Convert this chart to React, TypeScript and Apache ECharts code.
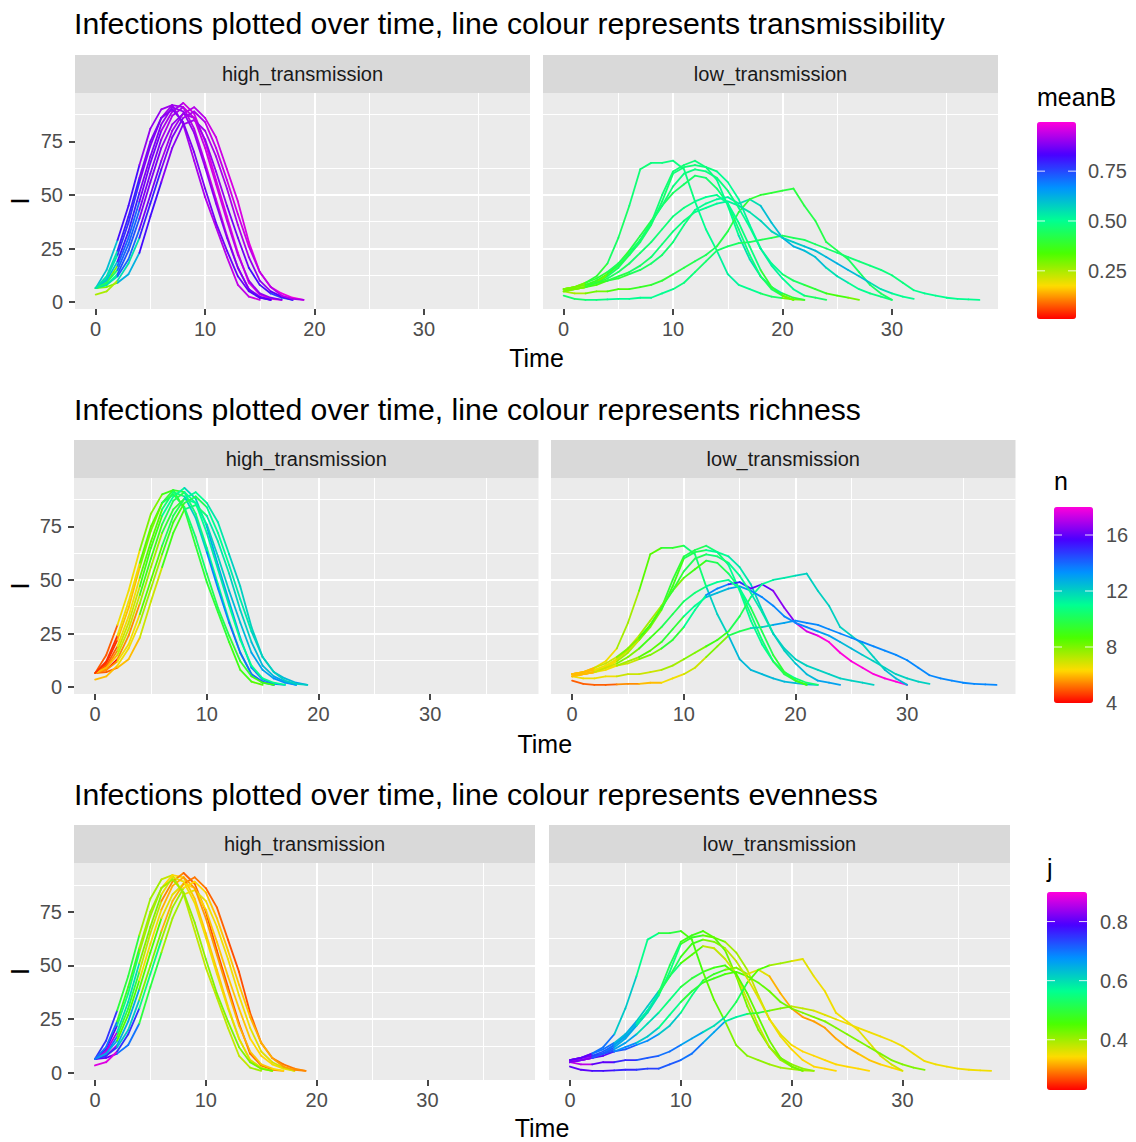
import React, { useEffect, useRef } from "react";
import * as echarts from "echarts";

// ---------------- data ----------------
const FACETS = ["high_transmission", "low_transmission"];
const X_TICKS = [0, 10, 20, 30];
const Y_TICKS = [0, 25, 50, 75];
const X_RANGE = [-1.89, 39.7];
const Y_RANGE = [-3.26, 97.64];
const TIME_STEP = 1; // infections recorded every time unit (t = 0, 1, 2, ...)
const COLOUR_STEP = 2; // colour variables recorded every 2 time units
const RAINBOW = ["#FF0000", "#FFDB00", "#49FF00", "#00FF92", "#0092FF", "#4900FF", "#FF00DB"];

// Infections I, high transmission runs
const HIGH_I: number[][] = [
  [6.5, 15, 29, 45, 64, 81, 90, 92, 83, 66, 49, 35, 21, 8, 2.5, 1],
  [6.5, 11, 22, 37, 56, 73, 86, 92, 91, 81, 65, 48, 31, 16, 6, 2, 1],
  [6.5, 9, 17, 30, 47, 65, 80, 89, 93, 88, 75, 57, 40, 23, 9, 3.5, 1.5, 1],
  [6.5, 8, 13, 24, 39, 56, 72, 83, 88, 86, 76, 61, 45, 30, 16, 8, 4, 2, 1],
  [6.5, 7, 9, 13, 23, 40, 56, 72, 83, 85, 80, 68, 53, 36, 21, 10, 5, 2.5, 1],
  [6.5, 8, 12, 20, 34, 50, 66, 80, 88, 91, 86, 77, 62, 47, 28, 14, 7, 4, 2, 1],
  [6.5, 10, 19, 33, 51, 68, 83, 91, 89, 79, 63, 46, 30, 16, 6, 2.5, 1],
  [6.5, 9, 15, 27, 43, 60, 76, 87, 91, 86, 72, 55, 38, 22, 10, 4, 2, 1],
  [6.5, 12, 24, 40, 58, 75, 86, 90, 84, 70, 53, 37, 24, 12, 5, 2, 1],
  [3.5, 5, 10, 18, 30, 46, 62, 77, 86, 89, 84, 72, 57, 41, 26, 14, 7, 3, 1.5, 1],
];

// Infections I, low transmission runs
const LOW_I: number[][] = [
  [6, 7, 9, 12, 18, 30, 45, 62, 65, 65, 66, 62, 47, 34, 24, 13, 8, 6, 4, 2.5, 1.8, 1.2, 1],
  [5, 6, 7, 9, 12, 16, 22, 29, 37, 50, 61, 64, 66, 63, 57, 45, 31, 20, 12, 7, 4, 2, 1],
  [6, 7, 8, 10, 13, 17, 22, 28, 36, 47, 60, 63, 64, 63, 61, 56, 48, 36, 25, 18, 13, 10, 8, 6, 4, 3, 2, 1],
  [5, 6, 7, 9, 13, 18, 24, 31, 38, 45, 51, 55, 59, 58, 53, 46, 34, 22, 12, 6, 3, 1],
  [6, 6, 7, 8, 10, 11, 13, 15, 18, 22, 28, 36, 43, 46, 48, 49, 46, 48, 45, 37, 30, 26, 24, 21, 16, 12, 9, 6, 4, 2.5, 1],
  [5, 4, 4, 5, 5, 6, 6, 7, 8, 10, 13, 16, 19, 22, 26, 33, 42, 48, 50, 51, 52, 53, 45, 38, 28, 24, 20, 14, 8, 4, 1],
  [3, 1.5, 1, 1, 1.2, 1.5, 1.5, 2, 2, 4, 6, 9, 14, 19, 24, 26, 27.5, 28, 29, 30, 31, 30, 29, 27, 25, 23, 21, 19, 17, 15, 12.5, 9, 5.5, 4, 3, 2, 1.5, 1.2, 1],
  [6, 7, 8, 9, 10, 12, 14, 17, 21, 27, 33, 38, 42, 44, 46, 47, 45, 42, 38, 33, 30, 28, 26, 24, 21, 18, 15, 12, 9, 6, 4, 2.5, 1.5],
  [5, 6, 7, 9, 11, 14, 18, 23, 28, 34, 40, 44, 47, 49, 50, 46, 37, 26, 15, 7, 3, 1],
  [6, 7, 9, 11, 14, 18, 23, 29, 37, 45, 54, 60, 62, 61, 58, 52, 44, 35, 25, 17, 11, 6, 3, 2, 1],
];

// meanB (transmissibility), every 2 time units
const HIGH_MEANB: number[][] = [
  [0.6, 0.82, 0.9, 0.91, 0.92, 0.93, 0.94, 0.95],
  [0.55, 0.78, 0.88, 0.91, 0.93, 0.95, 0.96, 0.94, 0.92],
  [0.3, 0.72, 0.87, 0.92, 0.95, 0.96, 0.97, 0.97, 0.98],
  [0.5, 0.74, 0.88, 0.9, 0.91, 0.9, 0.87, 0.82, 0.76, 0.72],
  [0.3, 0.62, 0.82, 0.89, 0.91, 0.92, 0.92, 0.9, 0.84, 0.8],
  [0.55, 0.72, 0.87, 0.91, 0.93, 0.95, 0.96, 0.97, 0.98, 0.99],
  [0.6, 0.8, 0.88, 0.9, 0.9, 0.89, 0.88, 0.87, 0.86],
  [0.45, 0.72, 0.88, 0.92, 0.94, 0.95, 0.93, 0.9, 0.88],
  [0.55, 0.8, 0.88, 0.89, 0.88, 0.87, 0.86, 0.84, 0.8],
  [0.25, 0.55, 0.8, 0.88, 0.92, 0.94, 0.95, 0.94, 0.93, 0.92],
];
const LOW_MEANB: number[][] = [
  [0.3, 0.4, 0.45, 0.47, 0.48, 0.48, 0.5, 0.52, 0.5, 0.45, 0.3, 0.25],
  [0.35, 0.42, 0.45, 0.46, 0.47, 0.47, 0.48, 0.5, 0.55, 0.52, 0.4, 0.3],
  [0.28, 0.38, 0.42, 0.45, 0.46, 0.47, 0.48, 0.5, 0.52, 0.5, 0.45, 0.4, 0.35, 0.3],
  [0.25, 0.3, 0.38, 0.42, 0.44, 0.45, 0.46, 0.47, 0.48, 0.45, 0.35],
  [0.3, 0.35, 0.4, 0.44, 0.46, 0.48, 0.5, 0.52, 0.55, 0.6, 0.62, 0.6, 0.55, 0.5, 0.48, 0.45],
  [0.25, 0.3, 0.35, 0.38, 0.4, 0.42, 0.44, 0.42, 0.4, 0.4, 0.41, 0.42, 0.43, 0.45, 0.45, 0.45],
  [0.45, 0.48, 0.5, 0.5, 0.5, 0.48, 0.46, 0.45, 0.44, 0.43, 0.44, 0.45, 0.46, 0.47, 0.48, 0.48, 0.5, 0.5, 0.5, 0.5],
  [0.3, 0.38, 0.42, 0.45, 0.47, 0.48, 0.5, 0.52, 0.55, 0.57, 0.58, 0.6, 0.62, 0.6, 0.55, 0.5, 0.48],
  [0.3, 0.4, 0.44, 0.46, 0.47, 0.48, 0.5, 0.5, 0.48, 0.4, 0.3],
  [0.3, 0.4, 0.44, 0.46, 0.47, 0.48, 0.48, 0.48, 0.5, 0.52, 0.5, 0.45, 0.4],
];

// n (richness), every 2 time units
const HIGH_N: number[][] = [
  [5, 6.5, 8, 9, 9.5, 9.5, 9, 8.5],
  [4.5, 6, 8, 9.5, 10.5, 11, 11, 11.5, 12],
  [5.5, 7, 9, 11, 12, 13, 13, 13.5, 13.5],
  [4.2, 5.5, 7.5, 9.5, 11, 12, 12.5, 13, 13.5, 14],
  [5, 6, 7, 9, 10.5, 11.5, 12, 12.5, 13, 13],
  [5.5, 6.5, 8.5, 10, 11, 11.5, 12, 12, 12.5, 13],
  [5, 6.5, 8.5, 10.5, 12, 13.5, 14, 14, 13.5],
  [6, 7, 9, 10, 11, 11.5, 11, 11, 11],
  [4.5, 6.5, 8.5, 10, 10.5, 10, 9.5, 9, 9],
  [6, 6.5, 7.5, 9, 10, 11, 11.5, 12, 12, 12],
];
const LOW_N: number[][] = [
  [6, 6.5, 7.5, 8.5, 9.5, 10.5, 12, 12.5, 12.5, 12.5, 12.5, 12.5],
  [5.5, 6.5, 7.5, 8.5, 9.5, 10, 10.5, 11, 11, 11, 10.5, 10],
  [6, 6.5, 7, 8, 9, 10, 11, 11.5, 12, 12, 12, 12, 12, 12],
  [6, 6.5, 7, 7.5, 8, 9, 10, 10.5, 10.5, 10, 10],
  [6, 6.5, 7, 8, 9.5, 11, 13.5, 15, 16, 16.5, 17.5, 18, 18, 18, 18, 18],
  [6.5, 6.5, 7, 7, 7.5, 8, 9, 10, 11, 11.5, 12, 12, 12, 12, 12.5, 12.5],
  [5, 5, 5.5, 6, 6.5, 7, 8, 10, 12, 13, 13.5, 13.5, 13.5, 13.5, 13.5, 13.5, 13.5, 13.5, 13.5, 13.5],
  [6, 6.5, 7.5, 8.5, 9.5, 11, 12.5, 13, 13.5, 13.5, 13.5, 13, 12.5, 12, 12, 12, 12],
  [6, 7, 8, 9, 10, 10.5, 11, 11, 10, 9.5, 9],
  [6, 7, 8, 9, 9.5, 10, 10.5, 11, 11.5, 12, 12.5, 13, 13],
];

// j (evenness), every 2 time units
const HIGH_J: number[][] = [
  [0.75, 0.5, 0.4, 0.38, 0.38, 0.38, 0.38, 0.4],
  [0.8, 0.55, 0.4, 0.34, 0.33, 0.33, 0.34, 0.35, 0.36],
  [0.7, 0.5, 0.38, 0.3, 0.28, 0.27, 0.27, 0.28, 0.3],
  [0.85, 0.65, 0.45, 0.36, 0.34, 0.33, 0.33, 0.34, 0.35, 0.36],
  [0.8, 0.7, 0.5, 0.4, 0.36, 0.35, 0.35, 0.36, 0.37, 0.38],
  [0.75, 0.62, 0.42, 0.32, 0.29, 0.28, 0.27, 0.28, 0.29, 0.3],
  [0.85, 0.6, 0.42, 0.36, 0.35, 0.35, 0.36, 0.37, 0.38],
  [0.65, 0.45, 0.35, 0.32, 0.31, 0.31, 0.32, 0.33, 0.34],
  [0.7, 0.48, 0.4, 0.4, 0.41, 0.42, 0.42, 0.43, 0.43],
  [0.88, 0.75, 0.55, 0.4, 0.34, 0.33, 0.33, 0.32, 0.31, 0.3],
];
const LOW_J: number[][] = [
  [0.82, 0.7, 0.62, 0.56, 0.5, 0.46, 0.44, 0.42, 0.41, 0.4, 0.4, 0.4],
  [0.8, 0.72, 0.65, 0.58, 0.52, 0.47, 0.45, 0.43, 0.42, 0.42, 0.41, 0.41],
  [0.85, 0.72, 0.66, 0.6, 0.55, 0.48, 0.44, 0.4, 0.38, 0.36, 0.34, 0.34, 0.34, 0.34],
  [0.78, 0.7, 0.66, 0.62, 0.55, 0.45, 0.38, 0.37, 0.38, 0.4, 0.4],
  [0.88, 0.8, 0.72, 0.68, 0.62, 0.55, 0.48, 0.42, 0.36, 0.32, 0.31, 0.31, 0.32, 0.33, 0.34, 0.35],
  [0.86, 0.8, 0.76, 0.72, 0.7, 0.66, 0.6, 0.52, 0.45, 0.4, 0.36, 0.35, 0.35, 0.36, 0.37, 0.37],
  [0.8, 0.78, 0.76, 0.74, 0.72, 0.7, 0.66, 0.58, 0.5, 0.42, 0.38, 0.36, 0.35, 0.35, 0.35, 0.35, 0.35, 0.35, 0.35, 0.35],
  [0.82, 0.74, 0.68, 0.62, 0.56, 0.5, 0.47, 0.45, 0.44, 0.43, 0.42, 0.42, 0.42, 0.42, 0.42, 0.42, 0.42],
  [0.82, 0.72, 0.66, 0.6, 0.55, 0.5, 0.47, 0.45, 0.44, 0.43, 0.43],
  [0.8, 0.7, 0.64, 0.58, 0.52, 0.47, 0.42, 0.38, 0.36, 0.35, 0.34, 0.34, 0.34],
];

const PANELS = [
  {
    title: "Infections plotted over time, line colour represents transmissibility",
    legend: "meanB", min: 0.0085, max: 0.9965,
    breaks: [0.25, 0.5, 0.75], breakLabels: ["0.25", "0.50", "0.75"],
    high: HIGH_MEANB, low: LOW_MEANB,
  },
  {
    title: "Infections plotted over time, line colour represents richness",
    legend: "n", min: 4, max: 18,
    breaks: [4, 8, 12, 16], breakLabels: ["4", "8", "12", "16"],
    high: HIGH_N, low: LOW_N,
  },
  {
    title: "Infections plotted over time, line colour represents evenness",
    legend: "j", min: 0.23, max: 0.9,
    breaks: [0.4, 0.6, 0.8], breakLabels: ["0.4", "0.6", "0.8"],
    high: HIGH_J, low: LOW_J,
  },
];

// ---------------- layout (pixels) ----------------
const LAYOUT = [
  { titleY: 23, top: 93, height: 216, lefts: [75, 543], width: 455, legendX: 1037, legendTitleY: 97, barTop: 122, barW: 39, barH: 197, labelX: 1088, timeY: 358 },
  { titleY: 409, top: 478, height: 216, lefts: [74, 551], width: 464.5, legendX: 1054, legendTitleY: 481, barTop: 507, barW: 39, barH: 196, labelX: 1106, timeY: 744 },
  { titleY: 794, top: 863, height: 217, lefts: [74, 549], width: 461, legendX: 1047, legendTitleY: 868, barTop: 892, barW: 40, barH: 198, labelX: 1100, timeY: 1128 },
];
const STRIP_H = 38;
const FONT = "Liberation Sans, Arial, sans-serif";

function buildSegments(curves: number[][], colours: number[][]): number[][] {
  const segs: number[][] = [];
  curves.forEach((values, ci) => {
    const col = colours[ci];
    for (let k = 0; k < values.length - 1; k++) {
      const ck = Math.min(Math.floor((k * TIME_STEP) / COLOUR_STEP), col.length - 1);
      segs.push([k * TIME_STEP, values[k], (k + 1) * TIME_STEP, values[k + 1], col[ck]]);
    }
  });
  return segs;
}

function text(t: string, x: number, y: number, size: number, color: string, align = "left", extra: any = {}) {
  return {
    type: "text",
    x, y,
    silent: true,
    ...extra,
    style: {
      text: t, fill: color, fontSize: size, fontFamily: FONT,
      align, textAlign: align, verticalAlign: "middle", textVerticalAlign: "middle",
    },
  };
}

function buildOption() {
  const grids: any[] = [];
  const xAxes: any[] = [];
  const yAxes: any[] = [];
  const series: any[] = [];
  const visualMaps: any[] = [];
  const graphics: any[] = [];

  PANELS.forEach((panel, p) => {
    const L = LAYOUT[p];
    graphics.push(text(panel.title, 74, L.titleY, 30.2, "#000000"));
    FACETS.forEach((facet, f) => {
      const gi = p * 2 + f;
      const left = L.lefts[f];
      grids.push({
        left, top: L.top, width: L.width, height: L.height,
        show: true, backgroundColor: "#EBEBEB", borderWidth: 0,
      });
      xAxes.push({
        type: "value", gridIndex: gi, min: X_RANGE[0], max: X_RANGE[1],
        minInterval: 10, maxInterval: 10,
        axisLine: { show: false, onZero: false },
        axisTick: { show: true, customValues: X_TICKS, length: 6, lineStyle: { color: "#333333", width: 1.8 } },
        axisLabel: { show: true, customValues: X_TICKS, fontSize: 20, color: "#4D4D4D", margin: 10, fontFamily: FONT },
        splitLine: { show: true, showMinLine: false, showMaxLine: false, lineStyle: { color: "#FFFFFF", width: 2 } },
        minorTick: { show: false, splitNumber: 2 },
        minorSplitLine: { show: true, lineStyle: { color: "#FFFFFF", width: 1 } },
      });
      yAxes.push({
        type: "value", gridIndex: gi, min: Y_RANGE[0], max: Y_RANGE[1],
        minInterval: 25, maxInterval: 25,
        axisLine: { show: false, onZero: false },
        axisTick: { show: f === 0, customValues: Y_TICKS, length: 6, lineStyle: { color: "#333333", width: 1.8 } },
        axisLabel: { show: f === 0, customValues: Y_TICKS, fontSize: 20, color: "#4D4D4D", margin: 12, fontFamily: FONT },
        splitLine: { show: true, showMinLine: false, showMaxLine: false, lineStyle: { color: "#FFFFFF", width: 2 } },
        minorTick: { show: false, splitNumber: 2 },
        minorSplitLine: { show: true, lineStyle: { color: "#FFFFFF", width: 1 } },
      });
      const curves = f === 0 ? HIGH_I : LOW_I;
      const colours = f === 0 ? panel.high : panel.low;
      series.push({
        type: "custom",
        name: `${panel.legend}-${facet}`,
        coordinateSystem: "cartesian2d",
        xAxisIndex: gi, yAxisIndex: gi,
        silent: true,
        encode: { x: [0, 2], y: [1, 3] },
        data: buildSegments(curves, colours),
        renderItem: (_params: any, api: any) => {
          const a = api.coord([api.value(0), api.value(1)]);
          const b = api.coord([api.value(2), api.value(3)]);
          return {
            type: "line",
            shape: { x1: a[0], y1: a[1], x2: b[0], y2: b[1] },
            style: { stroke: api.visual("color"), lineWidth: 1.8, lineCap: "round", fill: null },
          };
        },
      });
      // strip
      graphics.push({
        type: "rect", silent: true,
        shape: { x: left, y: L.top - STRIP_H, width: L.width, height: STRIP_H },
        style: { fill: "#D9D9D9" },
      });
      graphics.push(text(facet, left + L.width / 2, L.top - STRIP_H / 2, 20, "#1A1A1A", "center"));
    });
    // axis titles
    const midX = (L.lefts[0] + L.lefts[1] + L.width) / 2;
    graphics.push(text("Time", midX, L.timeY, 25, "#000000", "center"));
    graphics.push(text("I", 20, L.top + L.height / 2, 25, "#000000", "center", { rotation: Math.PI / 2 }));
    // legend
    visualMaps.push({
      type: "continuous",
      seriesIndex: [p * 2, p * 2 + 1],
      dimension: 4,
      min: panel.min, max: panel.max,
      inRange: { color: RAINBOW },
      left: L.legendX, top: L.barTop,
      itemWidth: L.barW, itemHeight: L.barH,
      calculable: false, hoverLink: false, realtime: false,
      padding: 0, showLabel: false,
      text: ["", ""],
    });
    graphics.push(text(panel.legend, L.legendX, L.legendTitleY, 25, "#000000"));
    panel.breaks.forEach((b, i) => {
      const y = L.barTop + ((panel.max - b) / (panel.max - panel.min)) * L.barH;
      graphics.push(text(panel.breakLabels[i], L.labelX, y, 20, "#4D4D4D"));
      if (y > L.barTop + 1 && y < L.barTop + L.barH - 1) {
        graphics.push({
          type: "line", silent: true, z: 10,
          shape: { x1: L.legendX, y1: y, x2: L.legendX + 8, y2: y },
          style: { stroke: "rgba(255,255,255,0.85)", lineWidth: 1 },
        });
        graphics.push({
          type: "line", silent: true, z: 10,
          shape: { x1: L.legendX + L.barW - 8, y1: y, x2: L.legendX + L.barW, y2: y },
          style: { stroke: "rgba(255,255,255,0.85)", lineWidth: 1 },
        });
      }
    });
  });

  return {
    animation: false,
    backgroundColor: "#FFFFFF",
    textStyle: { fontFamily: FONT },
    grid: grids,
    xAxis: xAxes,
    yAxis: yAxes,
    visualMap: visualMaps,
    series,
    graphic: { elements: graphics },
  };
}

export default function App() {
  const ref = useRef<HTMLDivElement>(null);
  useEffect(() => {
    if (!ref.current) return;
    const chart = echarts.init(ref.current, undefined, { renderer: "svg" });
    chart.setOption(buildOption() as any);
    return () => chart.dispose();
  }, []);
  return (
    <div
      ref={ref}
      style={{ position: "fixed", left: 0, top: 0, width: 1136, height: 1142, background: "#FFFFFF" }}
    />
  );
}
